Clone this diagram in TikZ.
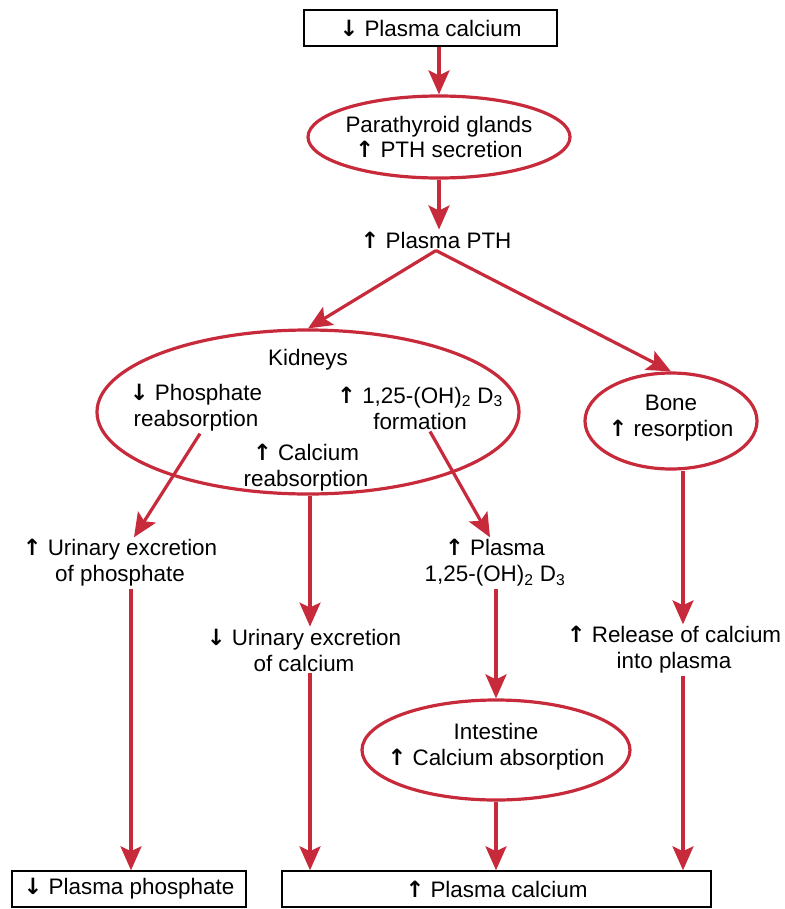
\documentclass[tikz,border=0pt]{standalone}
\usepackage{fontspec}
\setmainfont{Liberation Sans}
\newfontfamily\arfont{DejaVu Sans}
\newcommand{\upar}{{\arfont\bfseries ↑}}
\newcommand{\dnar}{{\arfont\bfseries ↓}}
\usetikzlibrary{arrows.meta,shapes.geometric}
\definecolor{cred}{RGB}{199,42,58}
\begin{document}
\begin{tikzpicture}[x=1bp,y=-1bp,
 every node/.style={font=\fontsize{22.5}{26}\selectfont, inner sep=2bp},
 txt/.style={align=center},
 oval/.style={ellipse, draw=cred, line width=3.2bp, inner sep=0pt, align=center},
 box/.style={draw=black, line width=1.4bp, minimum height=36bp, inner sep=0pt},
 arr/.style={draw=cred, line width=3.2bp, -{Stealth[length=24bp,width=21bp,inset=5bp]}}]
\useasboundingbox (0,0) rectangle (785,909);
% columns
\coordinate (colL) at (131,0);
\coordinate (colM) at (310,0);
\coordinate (colI) at (496,0);
\coordinate (colR) at (683,0);
% top
\node[box, minimum width=253bp] (top) at (430.5,28) {\dnar\ Plasma calcium};
\node[oval, minimum width=262bp, minimum height=82bp] (para) at (439,137) {};
\node[txt] (parat) at (439,137) {Parathyroid glands\\\upar\ PTH secretion};
\node[txt] (pth) at (436,240) {\upar\ Plasma PTH};
% kidneys
\node[oval, minimum width=422bp, minimum height=164bp] (kid) at (308,412) {};
\node[txt] (kidt) at (308,360) {Kidneys};
\node[txt] (phos) at (196,408) {\dnar\ Phosphate\\reabsorption};
\node[txt] (form) at (420,408) {\upar\ 1,25-(OH)\textsubscript{2} D\textsubscript{3}\\formation};
\node[txt] (carb) at (306,468) {\upar\ Calcium\\reabsorption};
% bone
\node[oval, minimum width=172bp, minimum height=96bp] (bone) at (671,421) {};
\node[txt] (bonet) at (671,418) {Bone\\\upar\ resorption};
% middle row
\node[txt] (urinP) at (120,563) {\upar\ Urinary excretion\\of phosphate};
\node[txt] (plD) at (495,563) {\upar\ Plasma\\1,25-(OH)\textsubscript{2} D\textsubscript{3}};
\node[txt] (urinC) at (304,650) {\dnar\ Urinary excretion\\of calcium};
\node[txt] (rel) at (674,650) {\upar\ Release of calcium\\into plasma};
% intestine
\node[oval, minimum width=268bp, minimum height=100bp] (int) at (496,750) {};
\node[txt] (intt) at (496,747) {Intestine\\\upar\ Calcium absorption};
% bottom boxes
\node[box, minimum width=234bp] (pbox) at (129,889) {\dnar\ Plasma phosphate};
\node[box, minimum width=429bp] (cbox) at (496.5,889) {\upar\ Plasma calcium};
% connectors
\draw[arr] (top.south -| para.north) -- (para.north);
\draw[arr] (para.south) -- (para.south |- pth.north);
\draw[arr] (pth.south) -- (kid.north);
\draw[arr] (pth.south) -- (bone.north);
\draw[arr] ([xshift=4bp]phos.south) -- ([xshift=14bp]urinP.north);
\draw[arr] ([xshift=10bp]form.south) -- ([xshift=-5bp]plD.north);
\draw[arr] (colM |- kid.south) -- (colM |- urinC.north);
\draw[arr] (colR |- bone.south) -- (colR |- rel.north);
\draw[arr] (colL |- urinP.south) -- (colL |- pbox.north);
\draw[arr] (colM |- urinC.south) -- (colM |- cbox.north);
\draw[arr] (colI |- plD.south) -- (int.north);
\draw[arr] (int.south) -- (colI |- cbox.north);
\draw[arr] (colR |- rel.south) -- (colR |- cbox.north);
\end{tikzpicture}
\end{document}
